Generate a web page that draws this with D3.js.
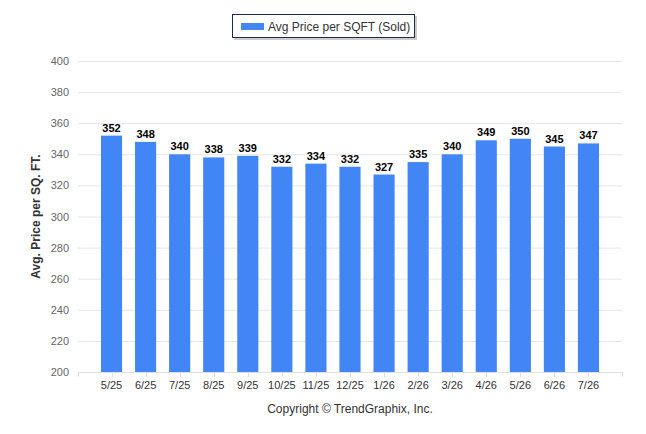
<!DOCTYPE html>
<html>
<head>
<meta charset="utf-8">
<script src="https://cdn.jsdelivr.net/npm/d3@7"></script>
<style>
  body { margin: 0; background: #fff; }
  svg { font-family: "Liberation Sans", Arial, sans-serif; }
</style>
</head>
<body>
<div id="chart"></div>
<script>
var months = ["5/25", "6/25", "7/25", "8/25", "9/25", "10/25", "11/25", "12/25",
              "1/26", "2/26", "3/26", "4/26", "5/26", "6/26", "7/26"];
var avgPrice = [352, 348, 340, 338, 339, 332, 334, 332, 327, 335, 340, 349, 350, 345, 347];
var yTicks = [200, 220, 240, 260, 280, 300, 320, 340, 360, 380, 400];
var seriesName = "Avg Price per SQFT (Sold)";

var width = 646, height = 434;
var plot = { left: 78, right: 622, top: 61, bottom: 372 };
var barColor = "#4285f4";

var svg = d3.select("#chart").append("svg")
    .attr("width", width)
    .attr("height", height);

var x = d3.scaleBand()
    .domain(months)
    .range([plot.left + 16.5, plot.right - 16.5])
    .paddingInner(0.38)
    .paddingOuter(0.19);

var y = d3.scaleLinear()
    .domain([200, 400])
    .range([plot.bottom, plot.top]);

// grid lines
svg.append("g").selectAll("line")
    .data(yTicks.slice(1))
    .enter().append("line")
    .attr("x1", plot.left)
    .attr("x2", plot.right)
    .attr("y1", function(d) { return y(d) + 0.5; })
    .attr("y2", function(d) { return y(d) + 0.5; })
    .attr("stroke", "#e6e6e6");

// y tick labels
svg.append("g").selectAll("text")
    .data(yTicks)
    .enter().append("text")
    .attr("x", 69)
    .attr("y", function(d) { return y(d) + 4; })
    .attr("text-anchor", "end")
    .attr("font-size", 11)
    .attr("fill", "#666")
    .text(function(d) { return d; });

// bars
svg.append("g").selectAll("rect")
    .data(avgPrice)
    .enter().append("rect")
    .attr("x", function(d, i) { return x(months[i]); })
    .attr("y", function(d) { return y(d); })
    .attr("width", x.bandwidth())
    .attr("height", function(d) { return y(200) - y(d); })
    .attr("fill", barColor);

// value labels
svg.append("g").selectAll("text")
    .data(avgPrice)
    .enter().append("text")
    .attr("x", function(d, i) { return x(months[i]) + x.bandwidth() / 2; })
    .attr("y", function(d) { return y(d) - 4; })
    .attr("text-anchor", "middle")
    .attr("font-size", 11)
    .attr("font-weight", "bold")
    .attr("fill", "#000")
    .text(function(d) { return d; });

// x axis line and ticks
svg.append("line")
    .attr("x1", plot.left)
    .attr("x2", plot.right)
    .attr("y1", plot.bottom + 0.5)
    .attr("y2", plot.bottom + 0.5)
    .attr("stroke", "#e0e0e0");

var tickX = [plot.left, plot.right].concat(months.map(function(m) { return x(m) + x.bandwidth() / 2; }));
svg.append("g").selectAll("line")
    .data(tickX)
    .enter().append("line")
    .attr("x1", function(d) { return Math.round(d) + 0.5; })
    .attr("x2", function(d) { return Math.round(d) + 0.5; })
    .attr("y1", plot.bottom)
    .attr("y2", plot.bottom + 5)
    .attr("stroke", "#e0e0e0");

svg.append("g").selectAll("text")
    .data(months)
    .enter().append("text")
    .attr("x", function(d) { return x(d) + x.bandwidth() / 2; })
    .attr("y", 389)
    .attr("text-anchor", "middle")
    .attr("font-size", 11)
    .attr("fill", "#333")
    .text(function(d) { return d; });

// y axis title
svg.append("text")
    .attr("transform", "translate(40," + ((plot.top + plot.bottom) / 2) + ") rotate(-90)")
    .attr("text-anchor", "middle")
    .attr("font-size", 12)
    .attr("font-weight", "bold")
    .attr("fill", "#333")
    .text("Avg. Price per SQ. FT.");

// legend
var legend = svg.append("g");
legend.append("rect")
    .attr("x", 234).attr("y", 16)
    .attr("width", 183).attr("height", 24)
    .attr("fill", "#999").attr("opacity", 0.5);
legend.append("rect")
    .attr("x", 232.5).attr("y", 14.5)
    .attr("width", 182).attr("height", 23)
    .attr("fill", "#fff")
    .attr("stroke", "#1c2b48");
legend.append("rect")
    .attr("x", 241).attr("y", 23)
    .attr("width", 23).attr("height", 7)
    .attr("fill", barColor);
legend.append("text")
    .attr("x", 268).attr("y", 30.5)
    .attr("font-size", 12)
    .attr("fill", "#333")
    .text(seriesName);

// credits
svg.append("text")
    .attr("x", 350)
    .attr("y", 413)
    .attr("text-anchor", "middle")
    .attr("font-size", 12)
    .attr("fill", "#333")
    .text("Copyright \u00a9 TrendGraphix, Inc.");
</script>
</body>
</html>
